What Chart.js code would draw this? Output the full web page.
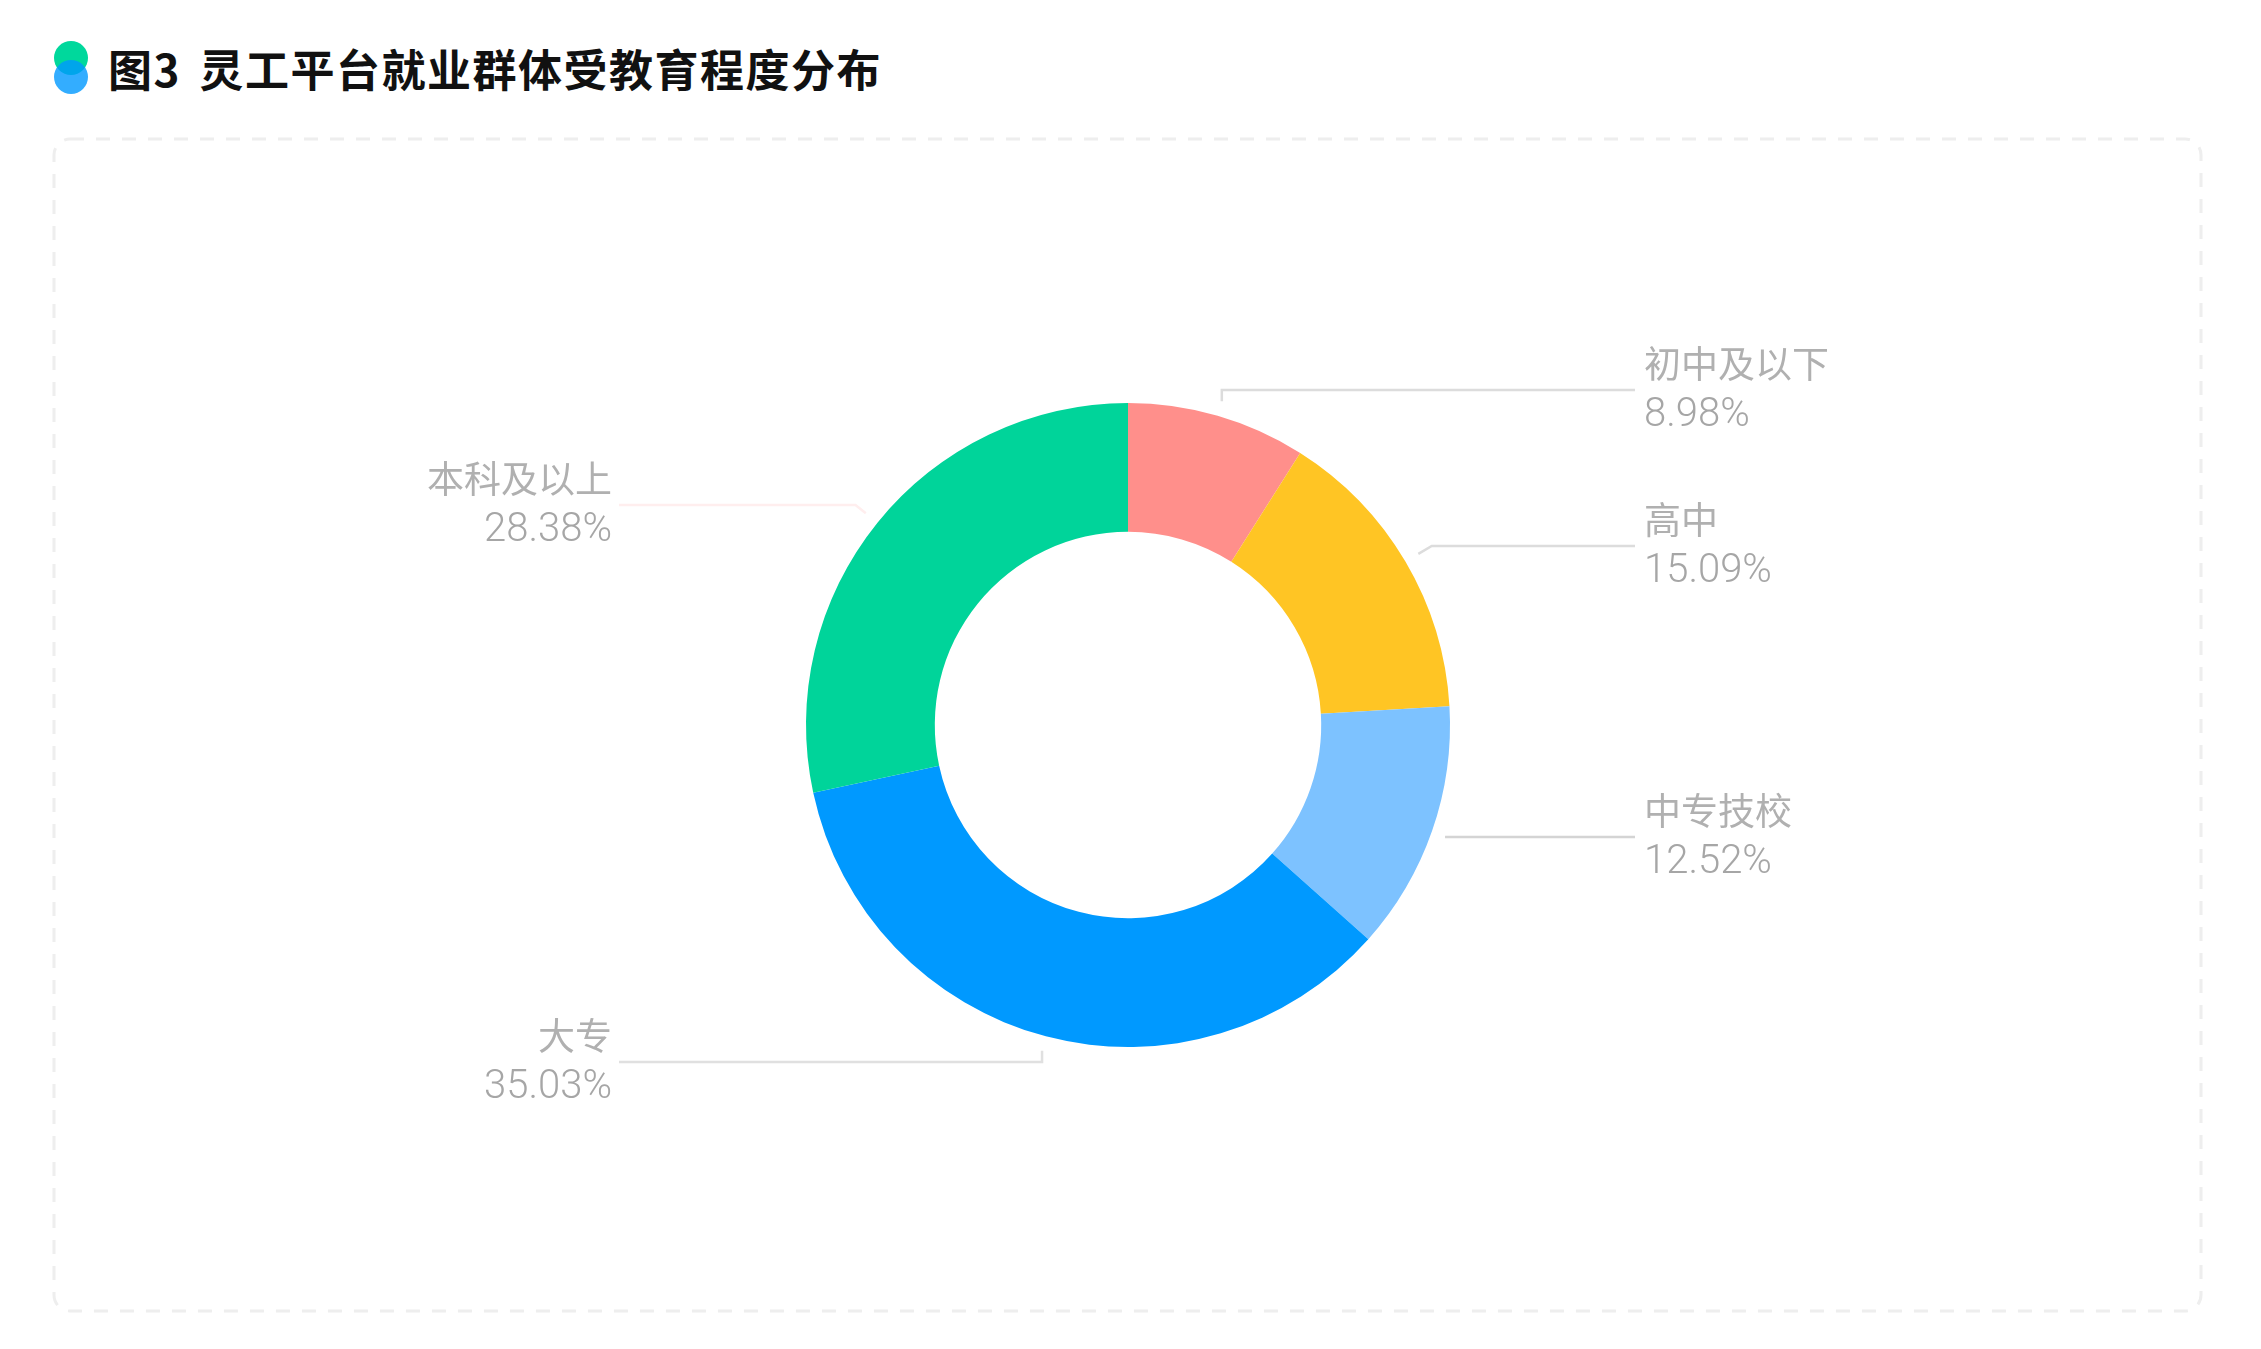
<!DOCTYPE html>
<html lang="zh-CN">
<head>
<meta charset="utf-8">
<title>图3 灵工平台就业群体受教育程度分布</title>
<script src="https://cdn.jsdelivr.net/npm/chart.js@4/dist/chart.umd.min.js"></script>
<style>
  html, body { margin: 0; padding: 0; background: #fff; overflow: hidden; }
  #page { position: relative; width: 2261px; height: 1349px; }
  #chart { position: absolute; left: 0; top: 0; }
  #panel { position: absolute; left: 0; top: 0; }
  .dot { position: absolute; left: 54px; width: 34px; height: 34px; border-radius: 50%; }
  #dot-a { top: 41px; background: #00D89C; }
  #dot-b { top: 60px; background: rgba(0, 153, 255, 0.8); }
  #title {
    position: absolute; left: 108px; top: 38px; height: 60px;
    font: bold 44px/60px "Noto Sans CJK SC", sans-serif;
    letter-spacing: 1.5px; word-spacing: 7px; color: #111; white-space: pre;
  }
</style>
</head>
<body>
<div id="page">
  <svg id="panel" width="2261" height="1349">
    <rect x="54" y="139" width="2147" height="1172" rx="16" ry="16"
          fill="none" stroke="#eeeeee" stroke-width="3" stroke-dasharray="14 12"/>
  </svg>
  <div class="dot" id="dot-a"></div>
  <div class="dot" id="dot-b"></div>
  <div id="title">图3 灵工平台就业群体受教育程度分布</div>
  <canvas id="chart" width="2261" height="1349"></canvas>
</div>

<script>
const categories = ['初中及以下', '高中', '中专技校', '大专', '本科及以上']
const shares = [8.98, 15.09, 12.52, 35.03, 28.38]
const sliceColors = ['#FF8F8B', '#FFC524', '#7DC2FF', '#0099FF', '#00D49A']
const leaderColors = ['#dcdcdc', '#dcdcdc', '#d4d4d4', '#e0e0e0', '#ffeeee']
const leaderLevels = [390, 546, 837, 1062, 505]

// leader lines and two-line labels, anchored on each arc's mid angle
const calloutPlugin = {
  id: 'callouts',
  afterDatasetsDraw (chart) {
    const ctx = chart.ctx
    chart.getDatasetMeta(0).data.forEach((arc, i) => {
      const { x, y, outerRadius, startAngle, endAngle } = arc.getProps(['x', 'y', 'outerRadius', 'startAngle', 'endAngle'], true)
      const mid = (startAngle + endAngle) / 2
      const dx = Math.cos(mid)
      const dy = Math.sin(mid)
      const sx = x + dx * (outerRadius + 15)
      const sy = y + dy * (outerRadius + 15)
      const level = leaderLevels[i]
      const right = dx >= 0
      const gap = level - sy
      // near the top and bottom the stub runs straight up or down
      const straight = Math.abs(gap) < 3 || Math.abs(dy) > 0.9
      const ex = straight ? sx : sx + dx / dy * gap

      ctx.save()
      ctx.strokeStyle = leaderColors[i]
      ctx.lineWidth = 2.5
      ctx.beginPath()
      ctx.moveTo(sx, sy)
      ctx.lineTo(ex, level)
      ctx.lineTo(right ? 1635 : 619, level)
      ctx.stroke()

      const tx = right ? 1644 : 612
      ctx.textAlign = right ? 'left' : 'right'
      ctx.textBaseline = 'middle'
      ctx.fillStyle = '#b0b0b0'
      ctx.font = '37px "Noto Sans CJK SC", sans-serif'
      ctx.fillText(categories[i], tx, level - 26)
      ctx.fillStyle = '#a6a6a6'
      ctx.font = '300 40px Roboto, sans-serif'
      ctx.fillText(shares[i].toFixed(2) + '%', tx, level + 26)
      ctx.restore()
    })
  }
}

new Chart(document.getElementById('chart'), {
  type: 'doughnut',
  data: {
    labels: categories,
    datasets: [{ data: shares, backgroundColor: sliceColors, borderWidth: 0 }]
  },
  options: {
    responsive: false,
    devicePixelRatio: 1,
    animation: false,
    cutout: '60%',
    layout: { padding: { top: 403, bottom: 302, left: 806, right: 811 } },
    plugins: { legend: { display: false }, tooltip: { enabled: false } }
  },
  plugins: [calloutPlugin]
})
</script>
</body>
</html>
